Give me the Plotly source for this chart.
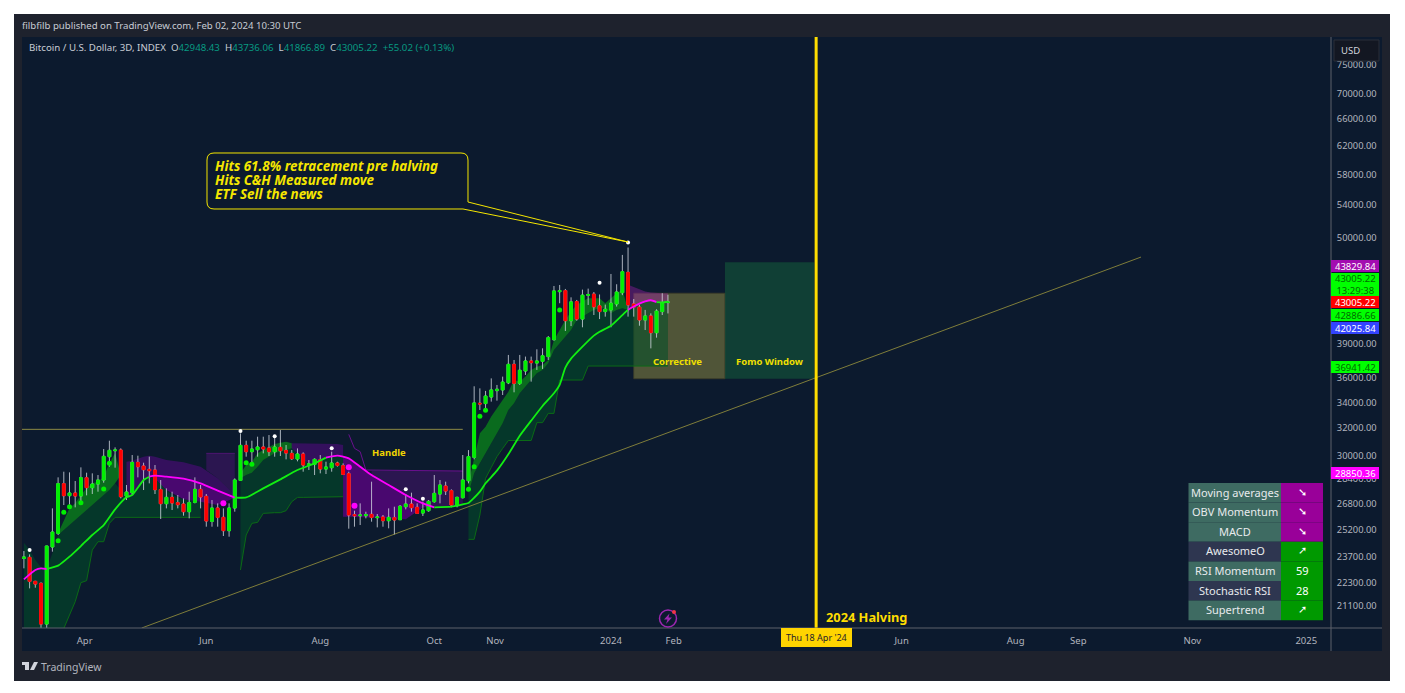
import pandas as pd
import plotly.graph_objects as go

bar_dates = pd.date_range(end="2024-01-31", periods=114, freq="3D")

opens = [23590,23646,22353,22249,20227,24225,25014,28099,27320,27492,
         27300,28497,27838,28078,28342,29934,30357,30405,27300,27513,
         29539,29287,29059,29013,27708,26814,27214,26877,26793,26316,
         26898,27729,27278,25727,26543,25969,25171,26543,28320,30739,
         30286,30429,30619,30548,30286,30595,30381,30168,29771,30121,
         29355,29401,29725,29081,29172,29493,29309,28766,26132,26070,
         26070,26152,25949,25989,25767,25949,25827,26626,26793,26585,
         26234,26378,26940,27427,27946,27643,26689,27192,28297,29890,
         33925,33900,34425,34945,35000,35593,37163,35547,36592,37456,
         37277,37426,37843,39373,44060,44165,41160,43048,41320,43680,
         43805,42620,42050,42215,42810,43955,46100,42810,42490,41230,
         41620,40020,42050,42948]
highs = [24000,23813,22380,22300,24290,26522,28520,28900,28855,28275,
         29195,28833,28788,28676,30476,31076,30595,30524,28012,30051,
         30004,29516,29934,29355,28342,27794,27578,27363,27150,27578,
         28520,28012,27427,27045,26835,26522,26835,28453,31615,31076,
         31076,31369,31369,31492,31492,31863,30763,30405,30524,30240,
         29701,29817,30051,29585,30286,29585,29470,28900,26378,26835,
         26316,28231,26172,26111,26522,26626,26730,27427,27513,26835,
         26940,27045,28676,28342,28231,27729,27257,30051,30400,35300,
         35130,34920,35960,35410,36110,37990,37545,37990,37843,37843,
         38494,38582,39716,44650,44755,44340,43477,43213,44270,44375,
         44025,43770,42745,45925,44830,48020,48860,43310,42710,42215,
         41876,42280,43900,43736]
lows = [23045,21990,22025,19600,19650,23963,24916,26730,26751,26585,
        26730,27341,27427,27578,28165,29241,29172,27150,27045,27363,
        28520,27686,28121,27427,25867,26522,26419,26522,26070,25908,
        26835,26522,25407,25407,25407,24858,24819,26316,28275,29934,
        29516,29934,30168,29981,29934,29981,29748,29701,29609,28900,
        29013,28676,28788,28743,28900,29241,28676,25289,25407,25506,
        25908,25706,25367,25407,25309,24955,25807,26460,26316,26172,
        26050,26316,26877,26835,27363,26585,26585,27150,28123,29750,
        33395,33260,34054,34133,34587,35480,34806,35410,36250,35684,
        36678,36763,37545,39280,42880,40180,40650,41160,40530,42710,
        41715,41320,41555,40530,42550,43700,41555,41555,40680,40272,
        38580,39560,41715,41867]
closes = [23665,22353,22214,20227,24282,25092,28099,27320,27492,27300,
          28497,27838,28078,28342,29957,30381,30405,27257,27556,29539,
          29241,29036,28968,27708,26814,27214,26856,26751,26316,26877,
          27729,27235,25747,26543,25969,25171,26543,28342,30739,30286,
          30476,30619,30476,30286,30619,30357,30192,29794,30121,29355,
          29424,29748,29081,29218,29493,29332,28721,26111,26070,26111,
          26132,25969,25989,25767,25969,25807,26647,26793,26564,26213,
          26419,26961,27470,28012,27621,26730,27214,28342,29938,33950,
          33870,34500,35000,35055,35650,37163,35547,36650,37456,37306,
          37456,37916,39560,44130,44165,41160,43015,41320,43700,43770,
          42520,42050,42280,42880,44020,46170,42710,42490,41230,41620,
          40020,42100,42880,43005]

ema_idx = [0,2,3,4,6,8,10,12,14,16,18,19,21,22,23,25,28,31,34,37,39,42,45,48,51,53,55,56,57,
           59,61,64,67,70,72,75,77,78,79,80,81,83,85,87,89,91,93,94,95,96,98,100,101,103,105,
           106,107,108,109,110,111,112,113]
ema = [22460,22955,23045,23010,23190,23683,24282,24916,25506,26460,27214,27363,28342,28564,
       28630,28564,28430,28121,27643,27193,27214,27794,28386,29013,29470,29865,30004,29934,
       29817,29241,28676,28012,27363,26835,26585,26626,26770,26860,27190,27580,28125,28970,
       30100,31440,32570,33710,34725,35410,36875,37660,38731,39745,40115,40680,41710,42215,
       42550,42845,43060,43180,43000,42970,43030]
ema_segments = [(0,4,"#ff00ff"),(4,22,"#12ee12"),(22,37,"#ff00ff"),(37,53,"#12ee12"),
                (53,72,"#ff00ff"),(72,106,"#12ee12"),(106,111,"#ff00ff"),(111,113,"#12ee12")]

white_idx = [1,38,44,54,67,70,101,106]
white_y = [24056,31790,31394,30524,27729,27130,44990,49450]
green_idx = [6,7,8,10,14,15,39,40,78,79,80,81,94]
green_y = [24590,26275,26626,26877,27751,29470,29516,29401,27729,29241,32900,33370,42215]
pink_idx = [35,57,58]
pink_y = [26835,29195,26690]

d1_idx = list(range(0,32))
d1_top = [24472,24056,23499,23100,23010,23869,24916,25210,25506,25807,26111,26419,26730,27045,
          27363,27686,28121,27686,27363,27363,27794,28342,28564,28453,28121,27686,27363,27214,
          27087,27045,26982,26940]
d1_low = [19000,19000,19000,19000,19000,19000,19000,20020,20660,21315,22285,22390,24056,24530,
          24530,25606,25969,25969,25969,25969,25969,25969,25969,25969,25969,25969,25969,25969,
          25969,25969,25969,25969]
b1_idx = list(range(6,18))
b1_top = [25014,25807,26522,26835,27363,27794,28121,28231,28564,29470,30168,28676]
b1_low = [24916,25210,25506,25807,26111,26419,26730,27045,27363,27686,28121,28676]

d2_idx = list(range(38,57))
d2_top = [28453,28676,28833,29241,29701,29934,30168,30286,30405,30524,30168,29701,29516,29470,
          29655,29865,29981,30004,29934]
d2_low = [22960,24916,25606,25666,26213,26254,26254,26254,26378,26940,27214,27214,27214,27214,
          27214,27214,27214,27214,27257]
b2_idx = list(range(38,48))
b2_top = [28788,29355,29585,30168,30405,30643,30835,30931,31003,30883]
b2_low = [28453,28676,28833,29241,29701,29934,30168,30286,30405,30524]

d3_idx = list(range(78,114))
d3_top = [27470,28790,29468,30170,30885,31615,32370,33395,33925,34725,35270,35821,36390,36680,
          37248,38435,39040,39650,40272,41230,41555,41876,42215,42380,42380,41876,42215,42380,
          42215,42550,42845,43060,43180,43000,42970,43030]
d3_low = [24665,24665,26110,28450,29190,29940,30520,31090,31090,31090,31090,31090,32420,32420,
          33130,33130,35821,35821,35821,35821,35821,37015,37015,37015,37015,37015,37015,37015,
          37015,37015,37015,37015,37015,37015,37015,37015]
b3_idx = list(range(78,107))
b3_top = [28125,29938,31615,32110,32880,33525,34185,34860,35821,35684,36110,36680,36960,37105,
          37545,39350,40272,41230,42050,42710,43050,43390,43390,43390,42880,43390,43900,44270,42215]

p1_idx = [18,19,21,22,23,25,28,31,34,37]
p1_top = [29585,29655,29934,30004,29934,29701,29539,29241,28453,27363]
p2_idx = [22,23,25,28,31,34,37]
p2_low = [28564,28453,27686,27087,26940,26730,27193]
box1_idx = [32,33,34,35,36,37]
box1_top = [30168,30168,30168,30168,30168,30168]
box1_low = [29013,28743,28453,28121,27729,27363]
p3_idx = list(range(47,57))
p3_top = [30883,30883,30835,30859,30883,30859,30835,30835,30835,30763]
p4_idx = [56,57,59,61,64,67,70,72]
p4_low = [26009,26009,26009,25969,25908,25847,26585,26585]
p5_idx = [61,64,67,70,72,75,77]
p5_top = [28945,28945,28945,28945,28945,28945,28945]
p6_idx = [106,107,108,109,110,111,112,113]
p6_top = [44770,44520,44310,44070,43960,43900,43900,43900]
res_idx = [57,58,59,60,77]
res_y = [31540,30524,30286,29013,28945]
box1_line_idx = [32,37]
box1_line_y = [30168,30168]

y_ticks = [75000,70000,66000,62000,58000,54000,50000,39000,36000,34000,32000,30000,28400,26800,25200,23700,22300,21100]
x_ticks = ["2023-03-30","2023-06-02","2023-08-01","2023-09-30","2023-11-01","2024-01-01","2024-02-03",
           "2024-06-02","2024-08-01","2024-09-03","2024-11-02","2025-01-01"]
x_labels = ["Apr","Jun","Aug","Oct","Nov","2024","Feb","Jun","Aug","Sep","Nov","2025"]

table_names = ["Moving averages","OBV Momentum","MACD","AwesomeO","RSI Momentum","Stochastic RSI","Supertrend"]
table_values = ["➘","➘","➘","➚","59","28","➚"]
table_left_bg = ["#3e6b62","#3e6b62","#3e6b62","#2e3650","#3e6b62","#2e3650","#3e6b62"]
table_right_bg = ["#990099","#990099","#990099","#009900","#009900","#009900","#009900"]

price_labels = [("43829.84","#a30cb0","#ffffff",260,272),
                ("43005.22<br>13:29:38","#00ff00","#006b00",273,296),
                ("43005.22","#ff0000","#ffffff",296,308),
                ("42886.66","#00ff00","#006b00",309,321),
                ("42025.84","#3344ff","#ffffff",322,334),
                ("36941.42","#00ff00","#006b00",361,373),
                ("28850.36","#ff00ff","#ffffff",467,479)]

callout_lines = ["Hits 61.8% retracement pre halving", "Hits C&amp;H Measured move", "ETF Sell the news"]

L, R, T, B = 22, 1331, 37, 628
def px(x): return (x - L) / (R - L)
def py(y): return (B - y) / (B - T)

FONT = "Noto Sans"
YEL = "#f5e600"
DARK = "rgba(0,80,40,0.55)"
BRIGHT = "rgba(10,118,28,0.88)"
PLIGHT = "rgba(105,5,155,0.44)"
PDEEP = "rgba(105,0,145,0.66)"
XRANGE = ["2023-02-25", "2025-01-14"]
YRANGE = [4.30190, 4.90309]

def d(i): return bar_dates[i]
def e(i): return ema[ema_idx.index(i)]

fig = go.Figure()

def band(idx, top, low, color):
    xs = [d(i) for i in idx] + [d(i) for i in reversed(idx)]
    ys = list(top) + list(reversed(low))
    fig.add_trace(go.Scatter(x=xs, y=ys, mode="lines", line=dict(width=0), fill="toself",
                             fillcolor=color, hoverinfo="skip", showlegend=False))

def thin(idx, vals, color, width=1):
    fig.add_trace(go.Scatter(x=[d(i) for i in idx], y=vals, mode="lines",
                             line=dict(color=color, width=width), hoverinfo="skip", showlegend=False))

band(d1_idx, d1_top, d1_low, DARK)
band(b1_idx, b1_top, b1_low, BRIGHT)
band(d2_idx, d2_top, d2_low, DARK)
band(b2_idx, b2_top, b2_low, BRIGHT)
band(d3_idx, d3_top, d3_low, DARK)
band(b3_idx, b3_top, d3_top[:len(b3_idx)], BRIGHT)
band(p1_idx, p1_top, [e(i) for i in p1_idx], PLIGHT)
band(p2_idx, [e(i) for i in p2_idx], p2_low, PDEEP)
band(box1_idx, box1_top, box1_low, "rgba(70,20,110,0.55)")
band(p3_idx, p3_top, d2_top[9:], PLIGHT)
band(p4_idx, [e(i) for i in p4_idx], p4_low, PDEEP)
band(p5_idx, p5_top, [e(i) for i in p5_idx], "rgba(70,20,110,0.55)")
band(p6_idx, p6_top, [e(i) for i in p6_idx], "rgba(160,30,170,0.40)")

thin(d1_idx[7:], d1_low[7:], "#0b6a16")
thin(d2_idx, d2_low, "#0b6a16")
thin(d3_idx, d3_low, "#0b6a16")
thin(res_idx, res_y, "#6a0f8e")
thin(box1_line_idx, box1_line_y, "#4d1470")

# trend lines
fig.add_trace(go.Scatter(x=["2023-04-29", "2024-10-06"], y=[20040, 47780], mode="lines",
                         line=dict(color="#7f7d3a", width=1), hoverinfo="skip", showlegend=False))
fig.add_trace(go.Scatter(x=["2023-02-25", "2023-10-15"], y=[31915, 31915], mode="lines",
                         line=dict(color="#8d8b45", width=1), hoverinfo="skip", showlegend=False))

# candles live on an overlaying axis pair, since boxes always paint under scatter in one subplot
WICK = "rgba(215,220,230,0.78)"
fig.add_trace(go.Candlestick(x=bar_dates, open=opens, high=highs, low=lows, close=closes,
                             xaxis="x2", yaxis="y2",
                             increasing=dict(line=dict(color=WICK, width=1), fillcolor="rgba(0,0,0,0)"),
                             decreasing=dict(line=dict(color=WICK, width=1), fillcolor="rgba(0,0,0,0)"),
                             hoverinfo="skip", showlegend=False))
fig.add_trace(go.Candlestick(x=bar_dates, open=opens, close=closes,
                             high=[max(a, b) for a, b in zip(opens, closes)],
                             low=[min(a, b) for a, b in zip(opens, closes)],
                             xaxis="x2", yaxis="y2",
                             increasing=dict(line=dict(color="#00f000", width=1), fillcolor="#00f000"),
                             decreasing=dict(line=dict(color="#ff0000", width=1), fillcolor="#ff0000"),
                             hoverinfo="skip", showlegend=False))

for a, b, col in ema_segments:
    pts = [i for i in ema_idx if a <= i <= b]
    fig.add_trace(go.Scatter(x=[d(i) for i in pts], y=[e(i) for i in pts], mode="lines",
                             xaxis="x2", yaxis="y2",
                             line=dict(color=col, width=1.8, shape="spline", smoothing=0.5),
                             hoverinfo="skip", showlegend=False))

for idx, vals, col, size in [(white_idx, white_y, "#ffffff", 4), (green_idx, green_y, "#00f000", 5),
                             (pink_idx, pink_y, "#ff00ff", 6)]:
    fig.add_trace(go.Scatter(x=[d(i) for i in idx], y=vals, mode="markers", xaxis="x2", yaxis="y2",
                             marker=dict(color=col, size=size, line=dict(width=0)),
                             hoverinfo="skip", showlegend=False))

shapes = []
def rect(x0, y0, x1, y1, color, line=None, layer="above"):
    shapes.append(dict(type="rect", xref="paper", yref="paper", x0=px(x0), x1=px(x1), y0=py(y0), y1=py(y1),
                       fillcolor=color, line=dict(color=line or color, width=1 if line else 0), layer=layer))

def hline(x0, y0, x1, y1, color, width=1):
    shapes.append(dict(type="line", xref="paper", yref="paper", x0=px(x0), x1=px(x1), y0=py(y0), y1=py(y1),
                       line=dict(color=color, width=width), layer="above"))

rect(14, 14, 1390, 681, "#1e222d", layer="below")
rect(22, 37, 1382, 651, "#0c1a2e", layer="below")

shapes.append(dict(type="rect", xref="x", yref="y", x0="2024-01-13", x1="2024-03-01", y0=35930, y1=43900,
                   fillcolor="rgba(178,170,70,0.41)", line=dict(color="rgba(60,60,40,0.8)", width=1), layer="below"))
shapes.append(dict(type="rect", xref="x", yref="y", x0="2024-03-01", x1="2024-04-17", y0=35930, y1=47190,
                   fillcolor="rgba(20,100,60,0.50)", line=dict(width=0), layer="below"))
shapes.append(dict(type="line", xref="x", yref="paper", x0="2024-04-18", x1="2024-04-18", y0=0, y1=1,
                   line=dict(color="#ffdd00", width=3), layer="above"))

hline(1331, 37, 1331, 651, "#5d606b")
hline(22, 628, 1382, 628, "#5d606b")

# callout
X0, X1, Y0, Y1, RD = 207, 468, 153, 209, 7
def P(x, y): return f"{px(x):.6f},{py(y):.6f}"
callout = ("M" + P(X0 + RD, Y0) + " L" + P(X1 - RD, Y0) + " Q" + P(X1, Y0) + " " + P(X1, Y0 + RD) +
           " L" + P(X1, 202) + " L" + P(628, 242) + " L" + P(463, Y1) + " L" + P(X0 + RD, Y1) +
           " Q" + P(X0, Y1) + " " + P(X0, Y1 - RD) + " L" + P(X0, Y0 + RD) + " Q" + P(X0, Y0) + " " + P(X0 + RD, Y0))
shapes.append(dict(type="path", xref="paper", yref="paper", path=callout, line=dict(color=YEL, width=1), layer="above"))

# USD box and price labels
rect(1334, 40, 1379, 61, "#131722", line="#2a2e39")
rect(781, 628, 852, 647, "#ffd400")

anns = []
def note(x, y, text, size, color, anchor="left", font=FONT):
    anns.append(dict(xref="paper", yref="paper", x=px(x), y=py(y), text=text, showarrow=False,
                     xanchor=anchor, yanchor="middle", align=anchor,
                     font=dict(size=size, color=color, family=font), borderpad=0, borderwidth=0))

for t, bg, fg, y0, y1 in price_labels:
    rect(1331, y0, 1379, y1, bg)
    note(1355, (y0 + y1) / 2, t, 9.5, fg, "center")

# signal table
TY0, TH = 483, 19.6
for i, (n, v, lb, rb) in enumerate(zip(table_names, table_values, table_left_bg, table_right_bg)):
    rect(1188.5, TY0 + i * TH, 1281, TY0 + (i + 1) * TH, lb)
    rect(1281, TY0 + i * TH, 1323, TY0 + (i + 1) * TH, rb)
    note(1235, TY0 + (i + 0.5) * TH - 0.8, n, 11, "#e8eaed", "center")
    note(1302, TY0 + (i + 0.5) * TH - 0.8, v, 11, "#ffffff", "center", font="DejaVu Sans" if v in "➘➚" else FONT)

note(22, 26, "filbfilb published on TradingView.com, Feb 02, 2024 10:30 UTC", 9.65, "#c8ccd4")
G = "#089981"
note(29, 48, "Bitcoin / U.S. Dollar, 3D, INDEX &nbsp;O<span style='color:%s'>42948.43</span> &nbsp;H<span style='color:%s'>43736.06</span> "
             "&nbsp;L<span style='color:%s'>41866.89</span> &nbsp;C<span style='color:%s'>43005.22</span> "
             "&nbsp;<span style='color:%s'>+55.02 (+0.13%%)</span>" % (G, G, G, G, G), 9.7, "#c8ccd4")
for line_text, ly in zip(callout_lines, [166.5, 180.5, 194]):
    note(215, ly, "<b><i>" + line_text + "</i></b>", 13.4, YEL)
note(389, 452, "<b>Handle</b>", 9.5, "#f0d400", "center")
note(677, 361, "<b>Corrective</b>", 9.5, "#f0e000", "center")
note(770, 361, "<b>Fomo Window</b>", 9.5, "#f0e000", "center")
note(866, 617, "<b>2024 Halving</b>", 12.8, "#ffdd00", "center")
note(816.5, 638, "Thu 18 Apr '24", 9, "#1e222d", "center")
note(1341, 50, "USD", 9.5, "#d1d4dc")
note(41, 667, "TradingView", 10.5, "#b2b5be")

# footer logo and lightning badge
shapes.append(dict(type="path", xref="paper", yref="paper", line=dict(width=0), fillcolor="#d1d4dc", layer="above",
                   path="M" + P(22, 662) + " L" + P(29, 662) + " L" + P(29, 670) + " L" + P(25, 670) + " L" + P(25, 665) + " L" + P(22, 665) + " Z"))
shapes.append(dict(type="path", xref="paper", yref="paper", line=dict(width=0), fillcolor="#d1d4dc", layer="above",
                   path="M" + P(34, 662) + " L" + P(38, 662) + " L" + P(34, 670) + " L" + P(30, 670) + " Z"))
shapes.append(dict(type="circle", xref="paper", yref="paper", x0=px(659.5), x1=px(676.5), y0=py(610), y1=py(627),
                   line=dict(color="#9c27b0", width=1.5), fillcolor="rgba(0,0,0,0)", layer="above"))
shapes.append(dict(type="path", xref="paper", yref="paper", line=dict(width=0), fillcolor="#9c27b0", layer="above",
                   path="M" + P(669.5, 613.5) + " L" + P(664, 619.5) + " L" + P(667.5, 619.5) + " L" + P(666, 624) +
                        " L" + P(672, 617.5) + " L" + P(668.5, 617.5) + " Z"))
shapes.append(dict(type="circle", xref="paper", yref="paper", x0=px(672), x1=px(676), y0=py(610), y1=py(614),
                   line=dict(width=0), fillcolor="#f23645", layer="above"))

fig.update_layout(
    width=1405, height=693, autosize=False,
    margin=dict(l=L, r=1405 - R, t=T, b=693 - B, pad=0),
    paper_bgcolor="#ffffff", plot_bgcolor="rgba(0,0,0,0)",
    showlegend=False, boxgap=0.3, hovermode=False,
    shapes=shapes, annotations=anns,
    font=dict(family=FONT, color="#b2b5be"),
    xaxis=dict(type="date", range=XRANGE, rangeslider=dict(visible=False),
               tickmode="array", tickvals=x_ticks, ticktext=x_labels, showgrid=False, zeroline=False,
               ticks="outside", ticklen=4, tickcolor="rgba(0,0,0,0)", tickfont=dict(size=9.5, color="#b2b5be"),
               showline=False),
    yaxis=dict(type="log", range=YRANGE, side="right", tickmode="array",
               tickvals=y_ticks, ticktext=["%.2f" % v for v in y_ticks], showgrid=False, zeroline=False,
               ticks="outside", ticklen=3, tickcolor="rgba(0,0,0,0)", tickfont=dict(size=9.3, color="#b2b5be"),
               showline=False),
    xaxis2=dict(type="date", range=XRANGE, overlaying="x", visible=False, rangeslider=dict(visible=False)),
    yaxis2=dict(type="log", range=YRANGE, overlaying="y", side="right", visible=False),
)

fig.write_html("out.html", config=dict(displayModeBar=False, responsive=False),
               post_script="document.body.style.margin='0';document.documentElement.style.overflow='hidden';")
